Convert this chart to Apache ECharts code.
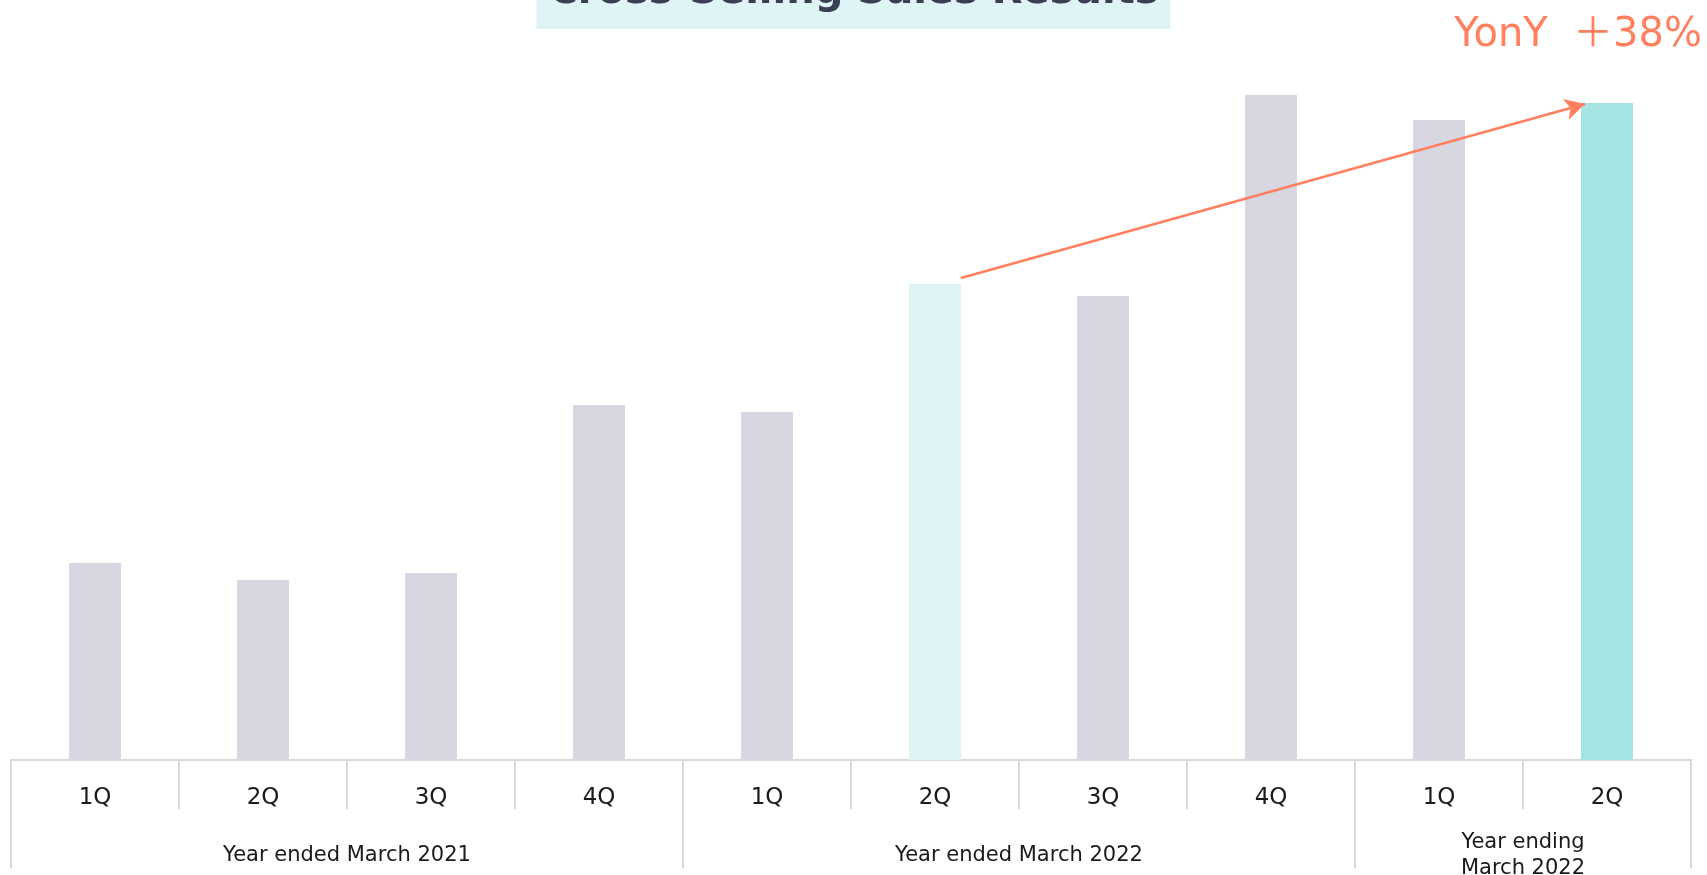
<!DOCTYPE html>
<html>
<head>
<meta charset="utf-8">
<title>Cross-Selling Sales Results</title>
<script src="https://cdn.jsdelivr.net/npm/echarts@6/dist/echarts.min.js"></script>
<style>
html,body{margin:0;padding:0;background:#fff;}
#main{width:1707px;height:875px;}
</style>
</head>
<body>
<div id="main"></div>
<script>
let quarters = ["1Q","2Q","3Q","4Q","1Q","2Q","3Q","4Q","1Q","2Q"];
let sales = [197, 180, 187, 355, 348, 476, 464, 665, 640, 657];
let years = ["Year ended March 2021", "Year ended March 2022", "Year ending\nMarch 2022"];
let yearSizes = [4, 4, 2];
let yoyText = "YonY  ＋38%";
// bars compared by the arrow
let fromIdx = 5, toIdx = 9;

// year group borders and centres, counted in categories
let bounds = [0];
let centers = [];
yearSizes.forEach(n => {
    let last = bounds[bounds.length - 1];
    centers.push(last + n / 2);
    bounds.push(last + n);
});

let font = "'DejaVu Sans', 'Noto Sans CJK JP', sans-serif";
let lineColor = "#d9d9d9";

let myChart = echarts.init(document.getElementById("main"));
myChart.setOption({
    animation:false,
    title:{
        text:"Cross-Selling Sales Results",
        left:"center",
        top:-41,
        backgroundColor:"#dff4f5",
        padding:[10, 12, 12, 12],
        textStyle:{
            fontSize:40,
            fontWeight:"bold",
            color:"#3b3e54",
            fontFamily:font,
            lineHeight:48
        }
    },
    grid:{
        left:11,
        right:16,
        top:60,
        bottom:115,
        outerBoundsMode:"none"
    },
    xAxis:[
        {
            type:"category",
            data:quarters,
            position:"bottom",
            axisLine:{lineStyle:{color:lineColor, width:2}},
            axisTick:{show:true, interval:0, length:49, lineStyle:{color:lineColor, width:2}},
            axisLabel:{
                interval:0,
                margin:38,
                verticalAlign:"middle",
                fontSize:23,
                color:"#1a1a1a",
                fontFamily:font
            }
        },
        {
            type:"value",
            min:0,
            max:bounds[bounds.length - 1],
            position:"bottom",
            axisLine:{show:false},
            splitLine:{show:false},
            axisTick:{show:true, customValues:bounds, length:108, lineStyle:{color:lineColor, width:2}},
            axisLabel:{
                customValues:centers,
                formatter:(v) => years[centers.indexOf(v)],
                margin:96,
                verticalAlign:"middle",
                fontSize:21,
                lineHeight:26,
                color:"#1a1a1a",
                fontFamily:font
            }
        }
    ],
    yAxis:{
        type:"value",
        min:0,
        max:700,
        show:false
    },
    graphic:[
        {
            type:"text",
            right:5,
            top:16,
            style:{
                text:yoyText,
                font:"40px " + font,
                fill:"#ff7f5e"
            }
        }
    ],
    series:[
        {
            type:"bar",
            xAxisIndex:0,
            data:sales,
            barWidth:52,
            silent:true,
            itemStyle:{
                color:(p) => {
                    if(p.dataIndex === toIdx) return "#a4e4e2";
                    if(p.dataIndex === fromIdx) return "#dff4f5";
                    return "#d7d7e1";
                }
            }
        }
    ]
});

// arrow from the top right of one bar to the top left of the other
let half = 26;
let p1 = myChart.convertToPixel({seriesIndex:0}, [fromIdx, sales[fromIdx]]);
let p2 = myChart.convertToPixel({seriesIndex:0}, [toIdx, sales[toIdx]]);
myChart.setOption({
    series:[
        {
            markLine:{
                silent:true,
                symbol:["none", "arrow"],
                symbolSize:[16, 20],
                label:{show:false},
                lineStyle:{color:"#ff7f5e", width:2.5, type:"solid"},
                data:[
                    [
                        {x:p1[0] + half, y:p1[1] - 6},
                        {x:p2[0] - half + 4, y:p2[1] + 1}
                    ]
                ]
            }
        }
    ]
});
</script>
</body>
</html>
